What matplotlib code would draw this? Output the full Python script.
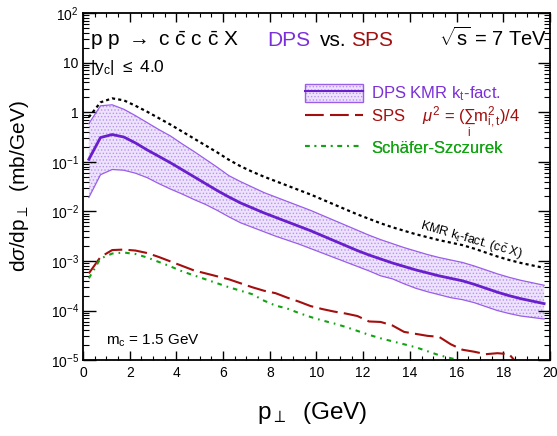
import numpy as np
import matplotlib
matplotlib.use("Agg")
import matplotlib.pyplot as plt
from matplotlib.patches import Patch
from matplotlib.lines import Line2D
from matplotlib.ticker import LogLocator, MultipleLocator, FixedFormatter

plt.rcParams['font.family'] = ['Liberation Sans', 'DejaVu Sans']
plt.rcParams['mathtext.fontset'] = 'custom'
plt.rcParams['mathtext.rm'] = 'Liberation Sans'
plt.rcParams['mathtext.it'] = 'Liberation Sans:italic'
plt.rcParams['mathtext.sf'] = 'Liberation Sans'
plt.rcParams['hatch.linewidth'] = 0.6

# bin centres in p_perp (GeV)
pt = [0.25, 0.75, 1.25, 1.75, 2.25, 2.75, 3.25, 3.75, 4.25, 4.75,
      5.25, 5.75, 6.25, 6.75, 7.25, 7.75, 8.25, 8.75, 9.25, 9.75,
      10.25, 10.75, 11.25, 11.75, 12.25, 12.75, 13.25, 13.75, 14.25, 14.75,
      15.25, 15.75, 16.25, 16.75, 17.25, 17.75, 18.25, 18.75, 19.25, 19.75]

# values, as exponents of 10 (mb/GeV)
dps_central_exp = [-0.95, -0.51, -0.45, -0.50, -0.62, -0.76, -0.89, -1.02, -1.16, -1.30,
                   -1.44, -1.58, -1.71, -1.83, -1.93, -2.03, -2.12, -2.21, -2.30, -2.39,
                   -2.49, -2.59, -2.69, -2.79, -2.88, -2.96, -3.04, -3.11, -3.18, -3.24,
                   -3.30, -3.35, -3.40, -3.47, -3.55, -3.63, -3.70, -3.76, -3.81, -3.86]
dps_upper_exp = [-0.23, 0.13, 0.15, 0.06, -0.07, -0.21, -0.35, -0.48, -0.64, -0.79,
                 -0.95, -1.11, -1.28, -1.40, -1.51, -1.62, -1.71, -1.80, -1.89, -1.98,
                 -2.08, -2.18, -2.28, -2.38, -2.48, -2.57, -2.65, -2.73, -2.80, -2.87,
                 -2.93, -2.98, -3.03, -3.10, -3.18, -3.26, -3.33, -3.39, -3.44, -3.49]
dps_lower_exp = [-1.72, -1.26, -1.155, -1.17, -1.23, -1.32, -1.44, -1.55, -1.65, -1.76,
                 -1.86, -1.98, -2.11, -2.23, -2.32, -2.41, -2.50, -2.58, -2.66, -2.75,
                 -2.84, -2.93, -3.02, -3.11, -3.20, -3.30, -3.36, -3.46, -3.55, -3.62,
                 -3.68, -3.74, -3.78, -3.84, -3.92, -4.00, -4.06, -4.11, -4.14, -4.17]
kmr_ccx_exp = [-0.10, 0.20, 0.28, 0.24, 0.13, 0.01, -0.12, -0.25, -0.39, -0.53,
               -0.67, -0.81, -0.96, -1.09, -1.20, -1.30, -1.39, -1.48, -1.57, -1.66,
               -1.76, -1.86, -1.96, -2.06, -2.15, -2.24, -2.32, -2.39, -2.46, -2.52,
               -2.58, -2.63, -2.68, -2.75, -2.83, -2.91, -2.98, -3.04, -3.09, -3.14]
sps_exp = [-3.25, -2.92, -2.78, -2.77, -2.79, -2.84, -2.92, -3.01, -3.10, -3.19,
           -3.25, -3.31, -3.37, -3.45, -3.53, -3.60, -3.65, -3.74, -3.82, -3.91,
           -3.97, -4.02, -4.06, -4.11, -4.22, -4.23, -4.30, -4.43, -4.47, -4.51,
           -4.53, -4.68, -4.79, -4.83, -4.88, -4.86, -4.88, -5.15]
ss_exp = [-3.35, -2.95, -2.85, -2.83, -2.86, -2.93, -3.02, -3.11, -3.21, -3.29,
          -3.37, -3.45, -3.53, -3.60, -3.67, -3.80, -3.90, -3.96, -4.05, -4.13,
          -4.20, -4.26, -4.33, -4.41, -4.49, -4.56, -4.62, -4.68, -4.74, -4.82,
          -4.90, -4.96, -5.02]

legend_labels = [r'DPS KMR k$_{\mathrm{t}}$-fact.',
                 r'SPS    $\mu^{2}$ = ($\sum_{\mathrm{i}}$m$^{2}_{\mathrm{i,t}}$)/4',
                 'Schäfer-Szczurek']

pt = np.array(pt)
dps_central = 10.0 ** np.array(dps_central_exp)
dps_upper = 10.0 ** np.array(dps_upper_exp)
dps_lower = 10.0 ** np.array(dps_lower_exp)
kmr_ccx = 10.0 ** np.array(kmr_ccx_exp)
sps = 10.0 ** np.array(sps_exp)
schafer = 10.0 ** np.array(ss_exp)

ytick_vals = [1e-5, 1e-4, 1e-3, 1e-2, 1e-1, 1, 10, 100]
ytick_labels = [r'$10^{-5}$', r'$10^{-4}$', r'$10^{-3}$', r'$10^{-2}$',
                r'$10^{-1}$', '1', '10', r'$10^{2}$']

purple = '#7a2fd9'
purple_line = '#6a1fcc'
purple_edge = '#9a5ee8'
band_face = '#eee3fc'
band_hatch = '#b893ef'
red = '#a30e0e'
green = '#12a312'
green_ls = (0, (2.2, 2.4, 0.8, 2.4))

fig = plt.figure(figsize=(5.57, 4.36), dpi=100)
ax = fig.add_axes([0.149, 0.174, 0.8384, 0.796])

ax.fill_between(pt, dps_lower, dps_upper, facecolor=band_face, edgecolor=band_hatch,
                hatch='.....', linewidth=0)
ax.plot(pt, dps_upper, color=purple_edge, lw=0.9)
ax.plot(pt, dps_lower, color=purple_edge, lw=0.9)
ax.plot(pt, dps_central, color=purple_line, lw=2.0)
ax.plot(pt, kmr_ccx, color='black', lw=1.6, linestyle=(0, (1.4, 1.4)))
ax.plot(pt[:len(sps)], sps, color=red, lw=1.5, linestyle=(0, (9, 3)))
ax.plot(pt[:len(schafer)], schafer, color=green, lw=1.5, linestyle=green_ls)

ax.set_yscale('log')
ax.set_xlim(0, 20)
ax.set_ylim(1e-5, 1e2)
ax.set_yticks(ytick_vals)
ax.yaxis.set_major_formatter(FixedFormatter(ytick_labels))
ax.yaxis.set_minor_locator(LogLocator(base=10, subs=np.arange(2, 10), numticks=20))
ax.yaxis.set_minor_formatter(plt.NullFormatter())
ax.xaxis.set_major_locator(MultipleLocator(2))
ax.xaxis.set_minor_locator(MultipleLocator(0.5))

ax.tick_params(which='both', direction='in', top=True, right=True, labelsize=10)
ax.tick_params(axis='y', which='major', length=9, width=1.0, pad=3)
ax.tick_params(axis='y', which='minor', length=4.5, width=0.8)
ax.tick_params(axis='x', which='major', length=6.5, width=1.0, pad=4)
ax.tick_params(axis='x', which='minor', length=3.2, width=0.8)
for s in ax.spines.values():
    s.set_linewidth(1.3)

ax.set_ylabel(r'd$\sigma$/dp$_{\perp}$  (mb/GeV)', fontsize=15)
ax.yaxis.set_label_coords(-0.112, 0.5)
ax.set_xlabel(r'p$_{\perp}$  (GeV)', fontsize=17.5)
ax.xaxis.set_label_coords(0.49, -0.115)

# header texts
ax.text(0.015, 0.905, r'p p $\rightarrow$ c $\bar{\mathrm{c}}$ c $\bar{\mathrm{c}}$ X',
        transform=ax.transAxes, fontsize=15, va='baseline')
ax.text(0.395, 0.905, 'DPS', color=purple, transform=ax.transAxes, fontsize=15, va='baseline')
ax.text(0.507, 0.905, 'vs.', color='black', transform=ax.transAxes, fontsize=15, va='baseline')
ax.text(0.575, 0.905, 'SPS', color=red, transform=ax.transAxes, fontsize=15, va='baseline')
ax.text(0.762, 0.905, r'$\sqrt{\mathrm{s}}$ = 7 TeV', transform=ax.transAxes,
        fontsize=14.5, va='baseline')
ax.text(0.015, 0.83, r'|y$_{\mathrm{c}}$| $\leq$ 4.0', transform=ax.transAxes,
        fontsize=12.5, va='baseline')
ax.text(0.05, 0.045, r'm$_{\mathrm{c}}$ = 1.5 GeV', transform=ax.transAxes,
        fontsize=11, va='baseline')
ax.text(0.83, 0.345, r'KMR k$_{\mathrm{t}}$-fact. (c$\bar{\mathrm{c}}$ X)',
        transform=ax.transAxes, fontsize=9, rotation=-16, ha='center', va='center')

# legend: one single-entry legend per row so the rows sit where they do in the figure
band_patch = Patch(facecolor=band_face, edgecolor=band_hatch, hatch='.....', linewidth=0)
band_outline = Patch(facecolor='none', edgecolor=purple_edge, linewidth=1.0)
band_line = Line2D([], [], color=purple_line, lw=1.5)
sps_handle = Line2D([], [], color=red, lw=1.5, linestyle=(0, (9, 3)))
ss_handle = Line2D([], [], color=green, lw=1.5, linestyle=green_ls)
handles = [(band_patch, band_outline, band_line), sps_handle, ss_handle]
row_y = [0.769, 0.684, 0.612]
colors = [purple, red, green]
for h, lab, yy, col in zip(handles, legend_labels, row_y, colors):
    lg = ax.legend([h], [lab], loc='center left', bbox_to_anchor=(0.475, yy),
                   frameon=False, fontsize=12, handlelength=3.5, handleheight=1.3,
                   handletextpad=0.5, borderpad=0, borderaxespad=0)
    lg.get_texts()[0].set_color(col)
    ax.add_artist(lg)

fig.savefig('out.png', dpi=100)
